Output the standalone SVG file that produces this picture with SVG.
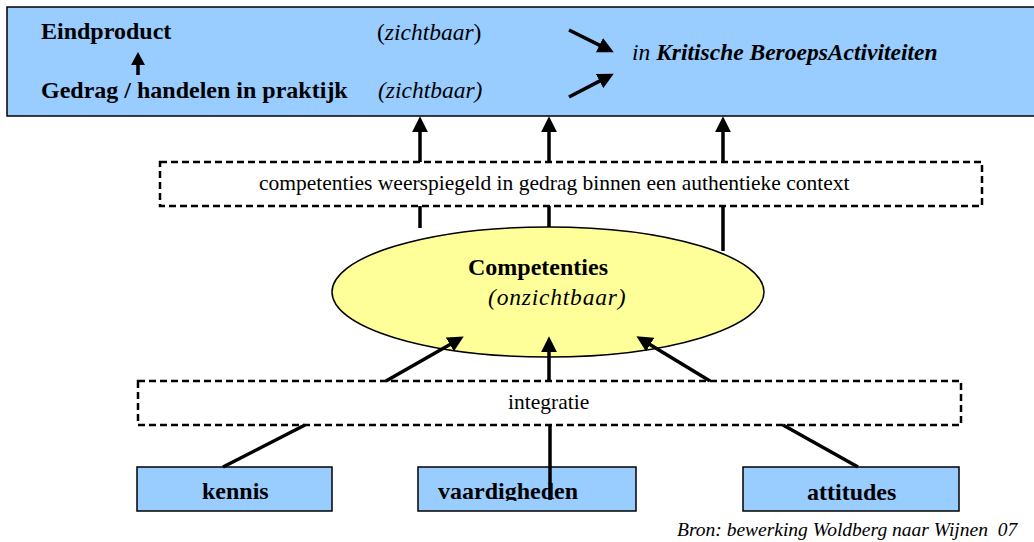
<svg xmlns="http://www.w3.org/2000/svg" width="1034" height="542" viewBox="0 0 1034 542">
<style>
text{font-family:"Liberation Serif","Times New Roman",serif;fill:#000}
.b{font-weight:bold;font-size:24px}
.i{font-style:italic;font-size:23.5px}
.r{font-size:21.5px}
.box{fill:#99CCFF;stroke:#000;stroke-width:1.5}
.dash{fill:none;stroke:#000;stroke-width:2.5;stroke-dasharray:7,4}
.ln{stroke:#000;stroke-width:3.5;fill:none}
.ar{stroke:#000;stroke-width:3.5;fill:none;marker-end:url(#ah)}
.ar2{stroke:#000;stroke-width:3.5;fill:none;marker-end:url(#ah2)}
</style>
<defs>
<marker id="ah" markerUnits="userSpaceOnUse" markerWidth="16" markerHeight="16" refX="3" refY="7.5" orient="auto" viewBox="0 0 15 15"><path d="M0,0 L15,7.5 L0,15 z" fill="#000"/></marker>
<marker id="ah2" markerUnits="userSpaceOnUse" markerWidth="14" markerHeight="14" refX="2" refY="7" orient="auto" viewBox="0 0 13 14"><path d="M0,0 L13,7 L0,14 z" fill="#000"/></marker>
<clipPath id="vclip"><rect x="418" y="467" width="218" height="34"/></clipPath>
</defs>
<g id="top">
<rect class="box" x="7" y="7" width="1040" height="109"/>
<text class="b" x="41" y="39">Eindproduct</text>
<text class="b" x="41" y="98">Gedrag / handelen in praktijk</text>
<text class="i" x="377" y="40"><tspan font-style="normal">(</tspan>zichtbaar<tspan font-style="normal">)</tspan></text>
<text class="i" x="378" y="98">(zichtbaar)</text>
<text class="i" x="632" y="60" font-size="24">in <tspan font-weight="bold">Kritische BeroepsActiviteiten</tspan></text>
<line class="ar2" x1="138" y1="75" x2="138" y2="63"/>
<line class="ar" x1="569" y1="30" x2="602.3" y2="46.6"/>
<line class="ar" x1="569" y1="97" x2="602.4" y2="79.6"/>
</g>
<g id="context">
<rect class="dash" x="160" y="162" width="822" height="44"/>
<text class="r" x="259" y="190">competenties weerspiegeld in gedrag binnen een authentieke context</text>
</g>
<g id="competenties">
<ellipse cx="548" cy="292" rx="216" ry="65" fill="#FFFF99" stroke="#000" stroke-width="1.5"/>
<text class="b" x="468" y="275" font-size="23.5">Competenties</text>
<text class="i" x="488" y="305" font-size="23" letter-spacing="0.8">(onzichtbaar)</text>
</g>
<g id="integratie">
<rect class="dash" x="138" y="381" width="823" height="44"/>
<text class="r" x="508" y="409">integratie</text>
</g>
<g id="kennis">
<rect class="box" x="137" y="467" width="195" height="44"/>
<text class="b" x="202" y="499" font-size="23.5">kennis</text>
</g>
<g id="vaardigheden">
<rect class="box" x="418" y="467" width="218" height="44"/>
<text class="b" x="438" y="499" clip-path="url(#vclip)">vaardigheden</text>
</g>
<g id="attitudes">
<rect class="box" x="743" y="467" width="216" height="44"/>
<text class="b" x="807" y="500">attitudes</text>
</g>
<g id="connectors">
<line class="ar" x1="420" y1="162" x2="420" y2="129"/>
<line class="ar" x1="549" y1="162" x2="549" y2="129"/>
<line class="ar" x1="723" y1="162" x2="723" y2="129"/>
<line class="ln" x1="420" y1="206" x2="420" y2="228"/>
<line class="ln" x1="549" y1="206" x2="549" y2="227"/>
<line class="ln" x1="723" y1="206" x2="723" y2="251"/>
<line class="ar" x1="386" y1="381" x2="452.6" y2="342.9"/>
<line class="ar" x1="549" y1="381" x2="549" y2="349"/>
<line class="ar" x1="710" y1="381" x2="647.4" y2="343"/>
<line class="ln" x1="223" y1="467" x2="305" y2="425"/>
<line class="ln" x1="550" y1="425" x2="550" y2="500"/>
<line class="ln" x1="858" y1="467" x2="783" y2="425"/>
</g>
<text x="677" y="536" font-style="italic" font-size="19.5" xml:space="preserve">Bron: bewerking Woldberg naar Wijnen  07</text>
</svg>
